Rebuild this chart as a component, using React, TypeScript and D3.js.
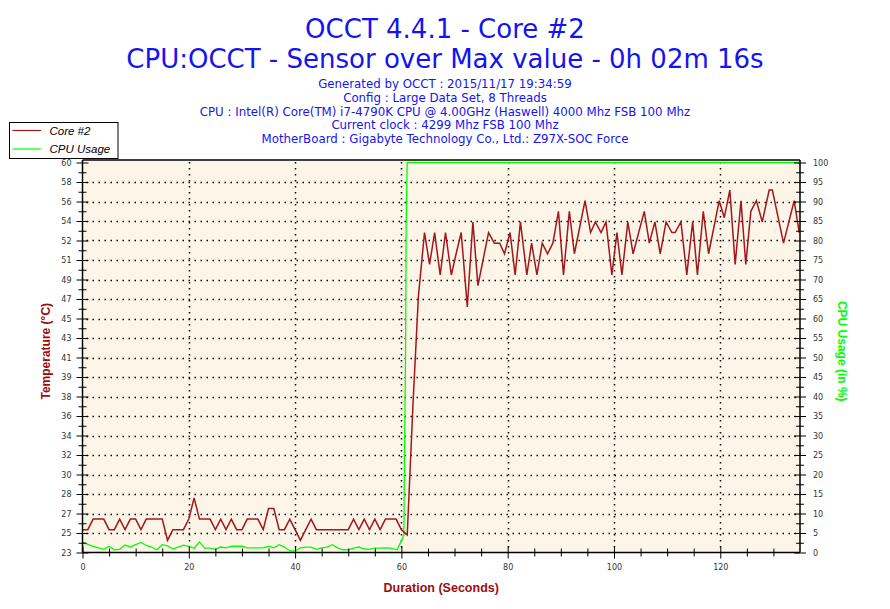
import React, { useEffect, useRef } from "react";
import * as d3 from "d3";

const titleLines = [
  "OCCT 4.4.1 - Core #2",
  "CPU:OCCT - Sensor over Max value - 0h 02m 16s",
];
const infoLines = [
  "Generated by OCCT : 2015/11/17 19:34:59",
  "Config : Large Data Set, 8 Threads",
  "CPU : Intel(R) Core(TM) i7-4790K CPU @ 4.00GHz (Haswell) 4000 Mhz FSB 100 Mhz",
  "Current clock : 4299 Mhz FSB 100 Mhz",
  "MotherBoard : Gigabyte Technology Co., Ltd.: Z97X-SOC Force",
];

const tempLabels = [
  "23", "25", "27", "28", "30", "32", "34", "36", "38", "39", "41",
  "43", "45", "47", "49", "51", "52", "54", "56", "58", "60",
];
const cpuTicks = [
  0, 5, 10, 15, 20, 25, 30, 35, 40, 45, 50, 55, 60, 65, 70, 75, 80, 85, 90, 95, 100,
];
const timeTicks = [0, 20, 40, 60, 80, 100, 120];
const timeMinorTicks = [
  5, 10, 15, 25, 30, 35, 45, 50, 55, 65, 70, 75, 85, 90, 95, 105, 110, 115, 125, 130,
];

// [seconds, °C]
const coreTemp: [number, number][] = [
  [0, 25], [1, 25], [2, 26], [3, 26], [4, 26], [5, 25], [6, 25], [7, 26], [8, 25],
  [9, 26], [10, 26], [11, 25], [12, 26], [13, 26], [14, 26], [15, 26], [16, 24],
  [17, 25], [18, 25], [19, 25], [20, 26], [21, 28], [22, 26], [23, 26], [24, 26],
  [25, 25], [26, 26], [27, 25], [28, 26], [29, 25], [30, 25], [31, 26], [32, 26],
  [33, 26], [34, 25], [35, 27], [36, 27], [37, 25], [38, 25], [39, 26], [40, 25],
  [41, 24], [42, 25], [43, 26], [44, 25], [45, 25], [46, 25], [47, 25], [48, 25],
  [49, 25], [50, 25], [51, 26], [52, 25], [53, 26], [54, 25], [55, 26], [56, 25],
  [57, 26], [58, 26], [59, 26], [60, 25], [61.1, 24.5], [62.2, 37], [63.2, 47],
  [64.35, 53], [65.3, 50], [66.25, 53], [67.3, 49], [68.3, 53], [69.4, 49],
  [70.3, 51], [71.25, 53], [72.4, 46], [73.45, 54], [74.4, 48], [75.4, 50.5],
  [76.4, 53], [77.5, 52], [78.5, 52], [79.4, 51], [80.45, 53], [81.4, 49],
  [82.4, 54], [83.6, 49], [84.5, 52], [85.5, 49], [86.5, 52], [87.5, 51],
  [88.5, 52], [89.55, 55], [90.5, 49], [91.6, 55], [92.55, 51], [93.55, 53.5],
  [94.55, 56], [95.6, 53], [96.5, 54], [97.56, 53], [98.5, 54], [99.6, 49],
  [100.56, 53], [101.5, 49], [102.6, 54], [103.6, 51], [104.65, 53], [105.7, 55],
  [106.65, 52], [107.7, 54], [108.7, 51], [109.8, 54], [110.9, 53], [111.5, 53],
  [112.6, 54], [113.7, 49], [114.8, 54], [115.7, 49], [116.8, 55], [117.8, 51],
  [118.8, 53.5], [119.8, 56], [120.75, 54.4], [121.8, 57], [122.8, 50],
  [123.9, 56], [124.8, 50], [125.75, 55], [126.8, 56], [127.9, 54], [129.2, 57],
  [129.8, 57], [130.85, 54.5], [131.9, 52], [132.9, 54], [133.9, 56], [134.85, 53],
];

// [seconds, %]
const cpuUsage: [number, number][] = [
  [0, 2.7], [1, 2.1], [2, 1.6], [3, 1.2], [4, 0.8], [5, 1.6], [6, 0.7], [7, 0.8],
  [8, 1.9], [9, 1.4], [10, 2.0], [11, 2.6], [12, 1.8], [13, 1.4], [14, 0.7],
  [15, 2.0], [16, 1.7], [17, 0.9], [18, 1.4], [19, 1.9], [20, 1.6], [21, 1.1],
  [22, 2.7], [23, 1.1], [24, 1.1], [25, 0.8], [26, 1.4], [27, 1.2], [28, 1.6],
  [29, 1.6], [30, 1.6], [31, 1.2], [32, 1.2], [33, 1.2], [34, 1.2], [35, 1.6],
  [36, 1.2], [37, 2.0], [38, 1.4], [39, 0.4], [40, 0.4], [41, 1.2], [42, 1.4],
  [43, 1.4], [44, 0.8], [45, 1.2], [46, 1.4], [47, 2.0], [48, 1.2], [49, 0.7],
  [50, 0.7], [51, 1.1], [52, 1.4], [53, 0.9], [54, 0.8], [55, 1.1], [56, 1.1],
  [57, 1.2], [58, 1.1], [59.2, 0.7], [60.47, 4.4], [60.55, 20], [60.79, 52],
  [60.9, 84], [61.09, 100], [135, 100],
];

const RED = "#a3161c";
const GREEN = "#00ff00";
const AXIS_RED = "#9b0d0d";
const BLUE = "#1414f0";

const App = () => {
  const svgRef = useRef(null);

  useEffect(() => {
    const width = 890;
    const height = 609;
    const plot = { left: 82.5, right: 800, top: 160, bottom: 552.5, top100: 162.5 };

    const svg = d3.select(svgRef.current).attr("width", width).attr("height", height);
    svg.selectAll("*").remove();

    svg.append("rect").attr("width", width).attr("height", height).attr("fill", "#fff");

    const xScale = d3.scaleLinear().domain([0, 135]).range([plot.left, plot.right]);
    const pctScale = d3.scaleLinear().domain([0, 100]).range([plot.bottom, plot.top100]);
    const tempScale = d3.scaleLinear().domain([22.85, 59.6]).range([plot.bottom, plot.top100]);

    // plot background
    svg
      .append("rect")
      .attr("x", plot.left)
      .attr("y", plot.top)
      .attr("width", plot.right - plot.left)
      .attr("height", plot.bottom - plot.top)
      .attr("fill", "#fdf6e8");

    // dotted grid
    const grid = svg.append("g").attr("stroke", "#000").attr("stroke-width", 1.5).attr("stroke-dasharray", "1.5 4.5");
    grid
      .selectAll("line.h")
      .data(cpuTicks.filter((d) => d > 0 && d < 100))
      .enter()
      .append("line")
      .attr("x1", plot.left + 4)
      .attr("x2", plot.right)
      .attr("y1", (d) => Math.round(pctScale(d)) + 0.5)
      .attr("y2", (d) => Math.round(pctScale(d)) + 0.5);
    grid
      .selectAll("line.v")
      .data(timeTicks.filter((d) => d > 0))
      .enter()
      .append("line")
      .attr("x1", (d) => Math.round(xScale(d)) + 0.5)
      .attr("x2", (d) => Math.round(xScale(d)) + 0.5)
      .attr("y1", plot.top + 2)
      .attr("y2", plot.bottom);

    // series
    svg
      .append("path")
      .datum(cpuUsage)
      .attr("fill", "none")
      .attr("stroke", GREEN)
      .attr("stroke-width", 1.3)
      .attr("d", d3.line<[number, number]>().x((d) => xScale(d[0])).y((d) => pctScale(d[1])));

    svg
      .append("path")
      .datum(coreTemp)
      .attr("fill", "none")
      .attr("stroke", RED)
      .attr("stroke-width", 1.5)
      .attr("d", d3.line<[number, number]>().x((d) => xScale(d[0])).y((d) => tempScale(d[1])));

    // frame lines
    const frame = svg.append("g").attr("stroke", "#000").attr("stroke-width", 1.5);
    frame.append("line").attr("x1", plot.left).attr("x2", plot.right).attr("y1", plot.top).attr("y2", plot.top);
    frame.append("line").attr("x1", plot.left).attr("x2", plot.left).attr("y1", plot.top).attr("y2", plot.bottom);
    frame.append("line").attr("x1", plot.right).attr("x2", plot.right).attr("y1", plot.top).attr("y2", plot.bottom);
    frame.append("line").attr("x1", plot.left).attr("x2", plot.right).attr("y1", plot.bottom).attr("y2", plot.bottom);

    const styleAxis = (g) => {
      g.select(".domain").remove();
      g.attr("color", "#000").attr("font-family", "'DejaVu Sans', sans-serif").attr("font-size", 8);
      g.selectAll("text").attr("fill", "#333");
    };

    const minorPct = cpuTicks.slice(1).map((d) => d - 2.5);

    // left axis (temperature labels at the 5 % steps)
    svg
      .append("g")
      .attr("transform", `translate(${plot.left + 6},0)`)
      .call(
        d3
          .axisLeft(pctScale)
          .tickValues(cpuTicks)
          .tickSize(12)
          .tickPadding(5)
          .tickFormat((d, i) => tempLabels[i])
      )
      .call(styleAxis);
    svg
      .append("g")
      .attr("transform", `translate(${plot.left + 4},0)`)
      .call(d3.axisLeft(pctScale).tickValues(minorPct).tickSize(8).tickFormat(() => ""))
      .call(styleAxis);

    // right axis
    svg
      .append("g")
      .attr("transform", `translate(${plot.right - 6},0)`)
      .call(d3.axisRight(pctScale).tickValues(cpuTicks).tickSize(12).tickPadding(7))
      .call(styleAxis);
    svg
      .append("g")
      .attr("transform", `translate(${plot.right - 4},0)`)
      .call(d3.axisRight(pctScale).tickValues(minorPct).tickSize(8).tickFormat(() => ""))
      .call(styleAxis);

    // bottom axis
    svg
      .append("g")
      .attr("transform", `translate(0,${plot.bottom - 6})`)
      .call(d3.axisBottom(xScale).tickValues(timeTicks).tickSize(12).tickPadding(6))
      .call(styleAxis);
    svg
      .append("g")
      .attr("transform", `translate(0,${plot.bottom - 4})`)
      .call(d3.axisBottom(xScale).tickValues(timeMinorTicks).tickSize(8).tickFormat(() => ""))
      .call(styleAxis);

    // axis titles
    const midY = (plot.top + plot.bottom) / 2 - 5;
    svg
      .append("text")
      .attr("transform", `translate(50,${midY}) rotate(-90)`)
      .attr("text-anchor", "middle")
      .attr("font-family", "'Liberation Sans', Arial, sans-serif")
      .attr("font-weight", "bold")
      .attr("font-size", 12)
      .attr("fill", AXIS_RED)
      .text("Temperature (°C)");
    svg
      .append("text")
      .attr("transform", `translate(838,${midY}) rotate(90)`)
      .attr("text-anchor", "middle")
      .attr("font-family", "'Liberation Sans', Arial, sans-serif")
      .attr("font-weight", "bold")
      .attr("font-size", 12)
      .attr("fill", GREEN)
      .text("CPU Usage (in %)");
    svg
      .append("text")
      .attr("x", (plot.left + plot.right) / 2)
      .attr("y", 592)
      .attr("text-anchor", "middle")
      .attr("font-family", "'Liberation Sans', Arial, sans-serif")
      .attr("font-weight", "bold")
      .attr("font-size", 12.5)
      .attr("fill", AXIS_RED)
      .text("Duration (Seconds)");

    // titles
    svg
      .selectAll("text.title")
      .data(titleLines)
      .enter()
      .append("text")
      .attr("x", 445)
      .attr("y", (d, i) => 38 + i * 30)
      .attr("text-anchor", "middle")
      .attr("font-family", "'DejaVu Sans', sans-serif")
      .attr("font-size", 26)
      .attr("fill", BLUE)
      .text((d) => d);
    svg
      .selectAll("text.info")
      .data(infoLines)
      .enter()
      .append("text")
      .attr("x", 445)
      .attr("y", (d, i) => 88 + i * 13.8)
      .attr("text-anchor", "middle")
      .attr("font-family", "'DejaVu Sans', sans-serif")
      .attr("font-size", 11.8)
      .attr("fill", BLUE)
      .text((d) => d);

    // legend
    const legend = svg.append("g");
    legend
      .append("rect")
      .attr("x", 9.5)
      .attr("y", 122.5)
      .attr("width", 108.5)
      .attr("height", 36)
      .attr("fill", "#fff")
      .attr("stroke", "#000");
    const legendItems = [
      { name: "Core #2", color: RED },
      { name: "CPU Usage", color: GREEN },
    ];
    legendItems.forEach((item, i) => {
      const y = 130.5 + i * 18.5;
      legend
        .append("line")
        .attr("x1", 12.5)
        .attr("x2", 41)
        .attr("y1", y)
        .attr("y2", y)
        .attr("stroke", item.color)
        .attr("stroke-width", 1.2);
      legend
        .append("text")
        .attr("x", 49.5)
        .attr("y", y + 4)
        .attr("font-family", "'Liberation Sans', Arial, sans-serif")
        .attr("font-style", "italic")
        .attr("font-size", 11.5)
        .attr("fill", "#000")
        .text(item.name);
    });
  }, []);

  return (
    <div style={{ position: "absolute", left: 0, top: 0 }}>
      <svg ref={svgRef}></svg>
    </div>
  );
};

export default App;
